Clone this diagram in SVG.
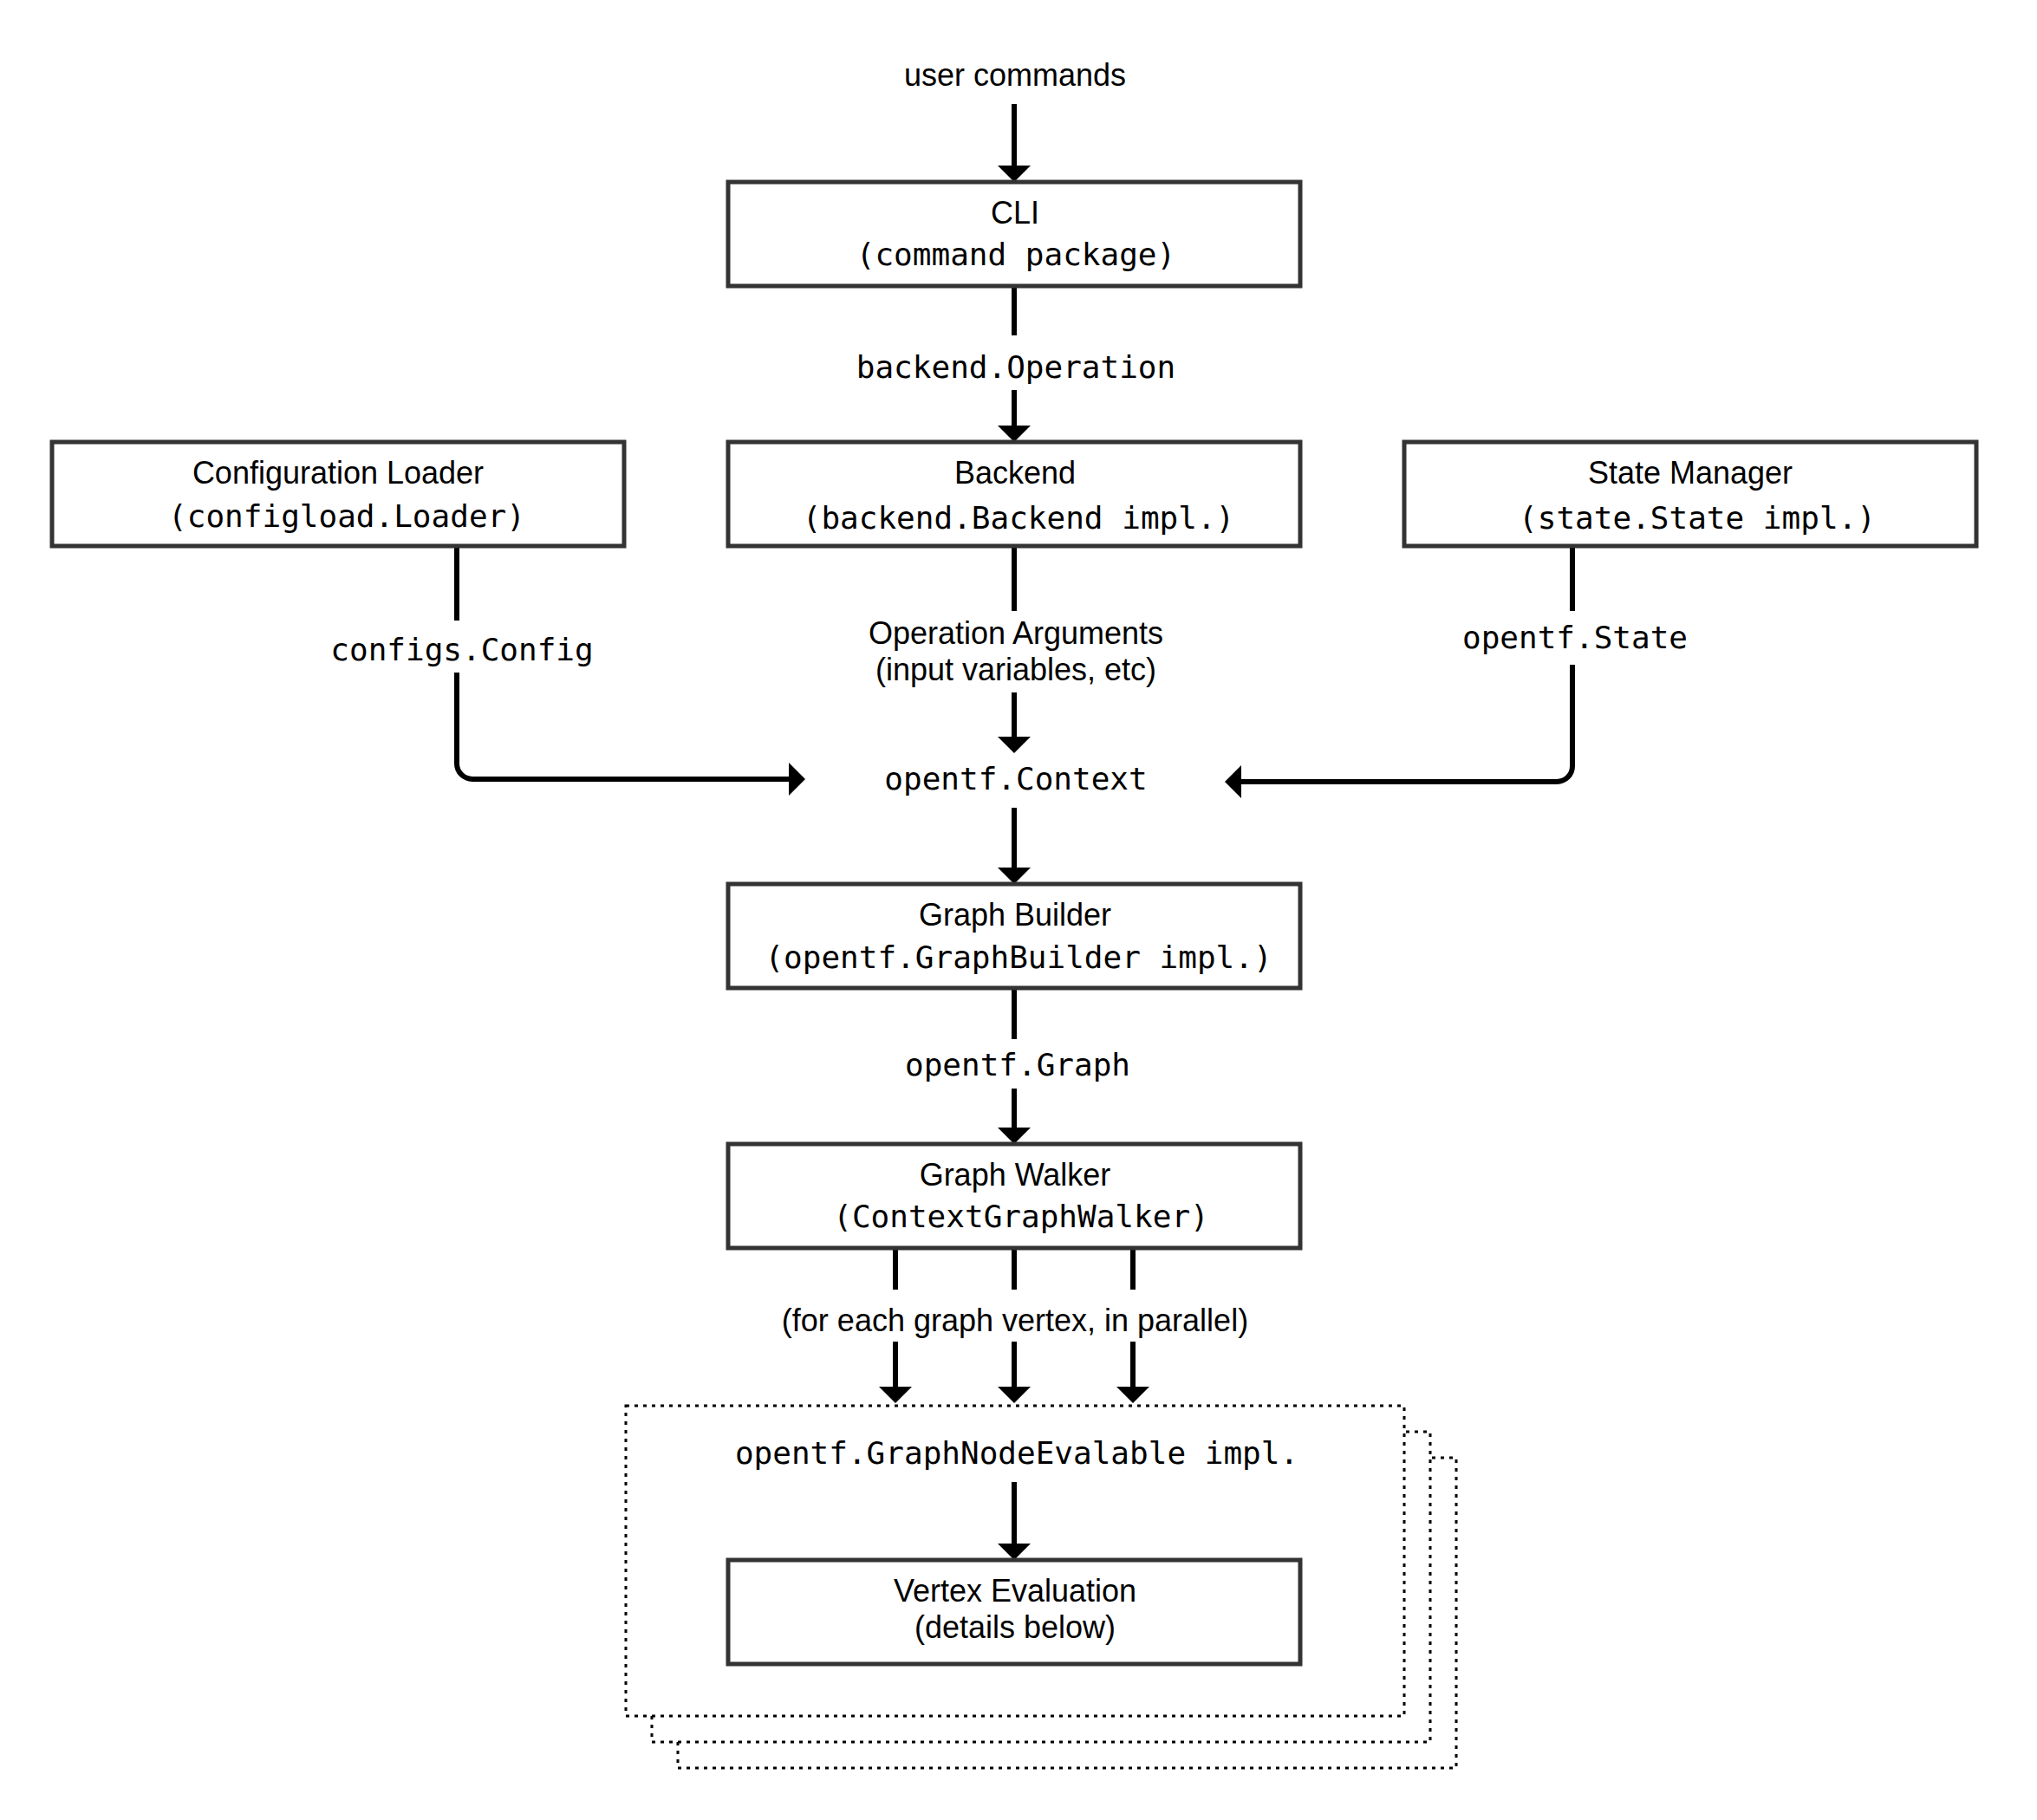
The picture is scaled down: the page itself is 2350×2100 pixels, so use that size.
<svg xmlns="http://www.w3.org/2000/svg" width="2350" height="2100" viewBox="0 0 2350 2100">
<style>
.box{fill:#fff;stroke:#333;stroke-width:5}
.dot{fill:#fff;stroke:#000;stroke-width:3;stroke-dasharray:4 6}
.ln{fill:none;stroke:#000;stroke-width:6}
.s{font-family:"Liberation Sans",Arial,sans-serif;font-size:36px;fill:#000;text-anchor:middle}
.m{font-family:"DejaVu Sans Mono","Liberation Mono",monospace;font-size:36px;fill:#000;text-anchor:middle}
</style>
<defs>
<marker id="ah" viewBox="0 0 19 38" refX="0" refY="19" markerWidth="19" markerHeight="38" orient="auto" markerUnits="userSpaceOnUse">
<path d="M0,0 L19,19 L0,38 Z" fill="#000"/>
</marker>
</defs>
<rect width="2350" height="2100" fill="#fff"/>

<g id="stack">
<rect class="dot" x="782" y="1682" width="898" height="358"/>
<rect class="dot" x="752" y="1652" width="898" height="358"/>
<rect class="dot" x="722" y="1622" width="898" height="358"/>
<text class="m" x="1173" y="1689">opentf.GraphNodeEvalable impl.</text>
</g>

<g id="connectors">
<path class="ln" d="M1170,120 V191" marker-end="url(#ah)"/>
<path class="ln" d="M1170,330 V387"/>
<path class="ln" d="M1170,450 V491" marker-end="url(#ah)"/>
<path class="ln" d="M1170,630 V705"/>
<path class="ln" d="M1170,799 V850" marker-end="url(#ah)"/>
<path class="ln" d="M1170,932 V1001" marker-end="url(#ah)"/>
<path class="ln" d="M527,630 V716"/>
<path class="ln" d="M527,776 V881 A18,18 0 0 0 545,899 H910" marker-end="url(#ah)"/>
<path class="ln" d="M1814,630 V705"/>
<path class="ln" d="M1814,767 V884 A18,18 0 0 1 1796,902 H1432" marker-end="url(#ah)"/>
<path class="ln" d="M1170,1140 V1199"/>
<path class="ln" d="M1170,1256 V1301" marker-end="url(#ah)"/>
<path class="ln" d="M1033,1440 V1488"/>
<path class="ln" d="M1033,1548 V1600" marker-end="url(#ah)"/>
<path class="ln" d="M1170,1440 V1488"/>
<path class="ln" d="M1170,1548 V1600" marker-end="url(#ah)"/>
<path class="ln" d="M1307,1440 V1488"/>
<path class="ln" d="M1307,1548 V1600" marker-end="url(#ah)"/>
<path class="ln" d="M1170,1710 V1781" marker-end="url(#ah)"/>
<text class="s" x="1171" y="99">user commands</text>
<text class="m" x="1172" y="436">backend.Operation</text>
<text class="s" x="1172" y="743">Operation Arguments</text>
<text class="s" x="1172" y="785">(input variables, etc)</text>
<text class="m" x="1172" y="911">opentf.Context</text>
<text class="m" x="533" y="762">configs.Config</text>
<text class="m" x="1817" y="748">opentf.State</text>
<text class="m" x="1174" y="1241">opentf.Graph</text>
<text class="s" x="1171" y="1536">(for each graph vertex, in parallel)</text>
</g>

<g id="cli">
<rect class="box" x="840" y="210" width="660" height="120"/>
<text class="s" x="1171" y="258">CLI</text>
<text class="m" x="1172" y="306">(command package)</text>
</g>
<g id="config-loader">
<rect class="box" x="60" y="510" width="660" height="120"/>
<text class="s" x="390" y="558">Configuration Loader</text>
<text class="m" x="400" y="608">(configload.Loader)</text>
</g>
<g id="backend">
<rect class="box" x="840" y="510" width="660" height="120"/>
<text class="s" x="1171" y="558">Backend</text>
<text class="m" x="1175" y="610">(backend.Backend impl.)</text>
</g>
<g id="state-manager">
<rect class="box" x="1620" y="510" width="660" height="120"/>
<text class="s" x="1950" y="558">State Manager</text>
<text class="m" x="1958" y="610">(state.State impl.)</text>
</g>
<g id="graph-builder">
<rect class="box" x="840" y="1020" width="660" height="120"/>
<text class="s" x="1171" y="1068">Graph Builder</text>
<text class="m" x="1175" y="1117">(opentf.GraphBuilder impl.)</text>
</g>
<g id="graph-walker">
<rect class="box" x="840" y="1320" width="660" height="120"/>
<text class="s" x="1171" y="1368">Graph Walker</text>
<text class="m" x="1178" y="1416">(ContextGraphWalker)</text>
</g>
<g id="vertex-evaluation">
<rect class="box" x="840" y="1800" width="660" height="120"/>
<text class="s" x="1171" y="1848">Vertex Evaluation</text>
<text class="s" x="1171" y="1890">(details below)</text>
</g>
</svg>
